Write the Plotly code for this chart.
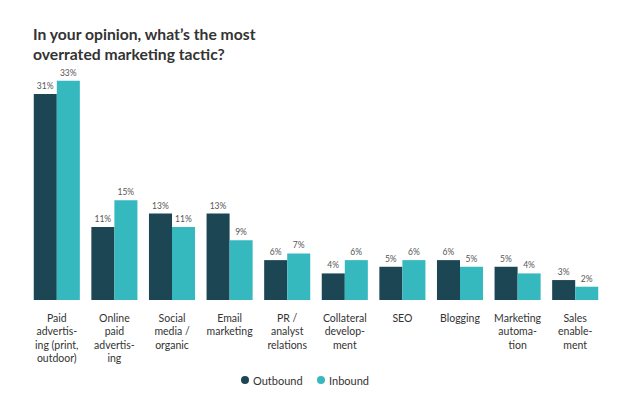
import plotly.graph_objects as go

categories = [
    "Paid<br>advertis-<br>ing (print,<br>outdoor)",
    "Online<br>paid<br>advertis-<br>ing",
    "Social<br>media /<br>organic",
    "Email<br>marketing",
    "PR /<br>analyst<br>relations",
    "Collateral<br>develop-<br>ment",
    "SEO",
    "Blogging",
    "Marketing<br>automa-<br>tion",
    "Sales<br>enable-<br>ment",
]
outbound = [31, 11, 13, 13, 6, 4, 5, 6, 5, 3]
inbound = [33, 15, 11, 9, 7, 6, 6, 5, 4, 2]
series_names = ["Outbound", "Inbound"]

C_OUT = "#1d4654"
C_IN = "#36b8bf"
FONT = "Lato, 'Open Sans', sans-serif"

# page has an 8px body margin; figure drawn from (8,8)
OFF = 8
W, H = 625 - OFF, 393 - OFF
ML, MR, MT, MB = 20, 21, 66, 93
PW, PH = W - ML - MR, H - MT - MB


def px_x(s):
    return (s - OFF - ML) / PW


def px_y(s):
    return (H - MB - (s - OFF)) / PH


fig = go.Figure()
for name, vals, col in [(series_names[0], outbound, C_OUT), (series_names[1], inbound, C_IN)]:
    fig.add_trace(go.Bar(
        x=categories, y=vals, name=name, marker_color=col, marker_line_width=0,
        texttemplate="%{y}%", textposition="outside", cliponaxis=False,
        textfont=dict(size=8.5, color="#555555", family=FONT),
        showlegend=False,
    ))

# custom legend (circle markers + labels)
legend_items = [(series_names[0], C_OUT, 245), (series_names[1], C_IN, 321)]
for name, col, cx in legend_items:
    r = 4
    cy = 380
    fig.add_shape(type="circle", xref="paper", yref="paper",
                  x0=px_x(cx - r), x1=px_x(cx + r),
                  y0=px_y(cy + r), y1=px_y(cy - r),
                  fillcolor=col, line_width=0)
    fig.add_annotation(text=name, xref="paper", yref="paper",
                       x=px_x(cx + 6), y=px_y(cy),
                       xanchor="left", yanchor="middle", showarrow=False,
                       font=dict(size=11, color="#333333", family=FONT))

fig.update_layout(
    width=W, height=H,
    margin=dict(l=ML, r=MR, t=MT, b=MB, autoexpand=False),
    paper_bgcolor="white", plot_bgcolor="white",
    barmode="group", bargap=0.2, bargroupgap=0,
    font=dict(family=FONT, color="#333333"),
    showlegend=False,
    title=dict(
        text="<b>In your opinion, what’s the most<br>overrated marketing tactic?</b>",
        xref="container", x=25 / W, xanchor="left",
        yref="container", y=1 - 32 / H, yanchor="top",
        font=dict(size=15.7, color="#333333", family=FONT),
    ),
    xaxis=dict(showgrid=False, showline=False, zeroline=False, ticks="",
               automargin=False, ticklabelstandoff=10,
               tickfont=dict(size=10.5, color="#333333", family=FONT), tickangle=0),
    yaxis=dict(range=[0, 34], visible=False, automargin=False),
)
fig.write_html("out.html")
